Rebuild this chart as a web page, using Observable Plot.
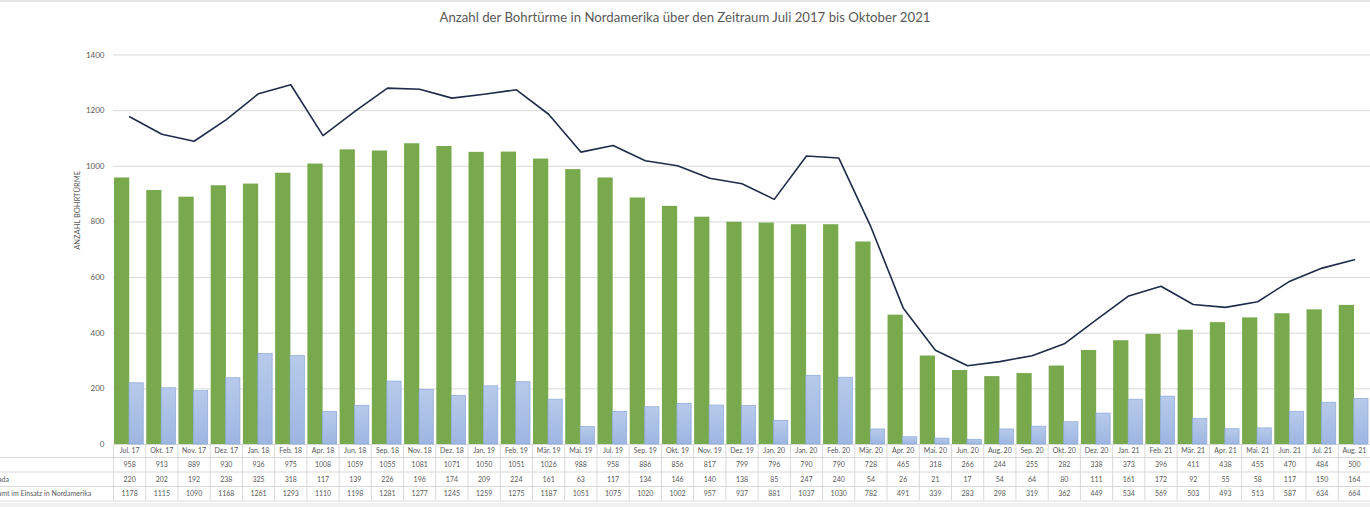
<!DOCTYPE html>
<html><head><meta charset="utf-8">
<script src="https://cdn.jsdelivr.net/npm/d3@7"></script>
<script src="https://cdn.jsdelivr.net/npm/@observablehq/plot@0.6"></script>
<style>
html,body{margin:0;padding:0;background:#fff;overflow:hidden;width:1370px;height:507px;position:relative}
#title{height:30px;line-height:35px;text-align:center;font-family:Lato,sans-serif;font-size:13.2px;color:#595959;white-space:nowrap}
#chart{margin-left:-30px;width:1400px}
#topstrip{position:absolute;left:0;top:0;width:1370px;height:2px;background:#e6e6e6}
#botstrip{position:absolute;left:0;bottom:0;width:1370px;height:4px;background:#f0f0f0}
</style></head><body>
<div id="topstrip"></div>
<div id="title">Anzahl der Bohrtürme in Nordamerika über den Zeitraum Juli 2017 bis Oktober 2021</div>
<div id="chart"></div>
<div id="botstrip"></div>
<script>
const months = ["Jul. 17","Okt. 17","Nov. 17","Dez. 17","Jan. 18","Feb. 18","Apr. 18","Jun. 18","Sep. 18","Nov. 18","Dez. 18","Jan. 19","Feb. 19","Mär. 19","Mai. 19","Jul. 19","Sep. 19","Okt. 19","Nov. 19","Dez. 19","Jan. 20","Jan. 20","Feb. 20","Mär. 20","Apr. 20","Mai. 20","Jun. 20","Aug. 20","Sep. 20","Okt. 20","Dez. 20","Jan. 21","Feb. 21","Mär. 21","Apr. 21","Mai. 21","Jun. 21","Jul. 21","Aug. 21"];
const usa = [958,913,889,930,936,975,1008,1059,1055,1081,1071,1050,1051,1026,988,958,886,856,817,799,796,790,790,728,465,318,266,244,255,282,338,373,396,411,438,455,470,484,500];
const kanada = [220,202,192,238,325,318,117,139,226,196,174,209,224,161,63,117,134,146,140,138,85,247,240,54,26,21,17,54,64,80,111,161,172,92,55,58,117,150,164];
const gesamt = [1178,1115,1090,1168,1261,1293,1110,1198,1281,1277,1245,1259,1275,1187,1051,1075,1020,1002,957,937,881,1037,1030,782,491,339,283,298,319,362,449,534,569,503,493,513,587,634,664];
const yTicks = [0,200,400,600,800,1000,1200,1400];
const rowLabels = ["USA","Kanada","Gesamt im Einsatz in Nordamerika"];
const yTitle = "ANZAHL BOHRTÜRME";

const data = months.map((m,i)=>({i, m, usa: usa[i], can: kanada[i], tot: gesamt[i]}));
const W = 1400, ML = 143, MT = 24.5, MB = 63, H = 477;
const bw = (W - ML) / months.length;
const gray = "#595959", grid = "#d9d9d9";
const rowKeys = ["usa","can","tot"];
const rowDy = [20.5, 35, 49.5];
const lineDy = [13, 27.5, 42, 56.5];

const marks = [
  Plot.ruleY(yTicks, {y: d=>d, stroke: grid, strokeWidth: 1}),
  Plot.barY(data, {x: "i", y: "usa", fill: "#78a94c", insetLeft: 1, insetRight: 16}),
  Plot.barY(data, {x: "i", y: "can", fill: "url(#blueGrad)", stroke: "#8eaadb", strokeWidth: 0.75, insetLeft: 16, insetRight: 2}),
  Plot.lineY(data, {x: "i", y: "tot", stroke: "#1f2b4a", strokeWidth: 1.6}),
  Plot.text(yTicks, {y: d=>d, frameAnchor: "left", textAnchor: "end", dx: -9, text: d=>String(d), fontSize: 8, fill: gray}),
  Plot.text([yTitle], {frameAnchor: "left", rotate: -90, dx: -36, text: d=>d, fontSize: 7.5, fill: gray}),
  Plot.text(data, {x: "i", y: ()=>0, text: "m", dy: 6.5, fontSize: 7, fill: gray}),
  Plot.ruleX(data, {x: "i", y1: ()=>0, y2: ()=>0, dx: -bw/2, insetBottom: -56.5, stroke: grid})
];
lineDy.forEach(dy => marks.push(Plot.ruleY([0], {y: d=>d, dy, stroke: grid, insetLeft: -ML})));
rowKeys.forEach((k, r) => {
  marks.push(Plot.text(data, {x: "i", y: ()=>0, text: d=>String(d[k]), dy: rowDy[r], fontSize: 7, fill: gray}));
  marks.push(Plot.text([rowLabels[r]], {y: ()=>0, frameAnchor: "left", textAnchor: "start", dx: -127.5, dy: rowDy[r], text: d=>d, fontSize: 7, fill: gray}));
});

const plot = Plot.plot({
  width: W, height: H,
  marginLeft: ML, marginRight: 0, marginTop: MT, marginBottom: MB,
  style: {fontFamily: "Lato, sans-serif", color: gray, background: "transparent", overflow: "visible"},
  x: {type: "band", domain: data.map(d=>d.i), padding: 0, round: false, axis: null},
  y: {domain: [0, 1400], axis: null},
  marks
});
const defs = d3.select(plot).insert("defs", ":first-child");
const grad = defs.append("linearGradient").attr("id","blueGrad").attr("x1",0).attr("y1",0).attr("x2",0).attr("y2",1);
grad.append("stop").attr("offset","0%").attr("stop-color","#b7caeb");
grad.append("stop").attr("offset","100%").attr("stop-color","#9db6e1");
document.getElementById("chart").appendChild(plot);
</script>
</body></html>
